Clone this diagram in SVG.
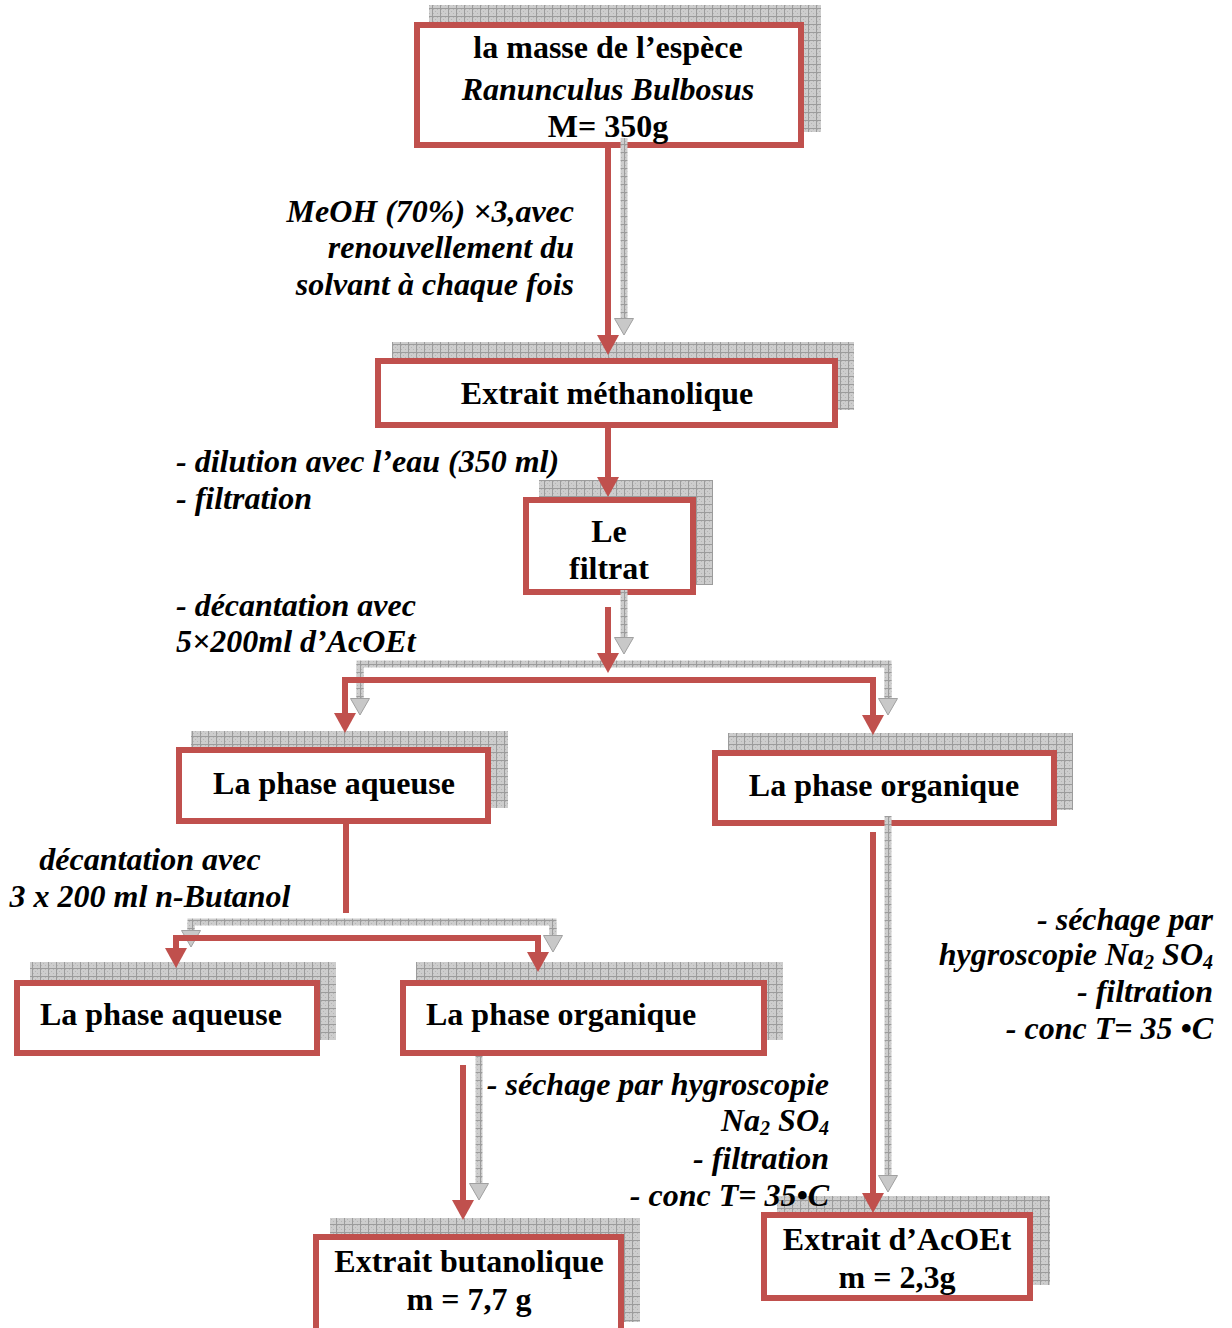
<svg xmlns="http://www.w3.org/2000/svg" width="1232" height="1328" viewBox="0 0 1232 1328">
<defs>
<pattern id="grid" width="8" height="8" patternUnits="userSpaceOnUse">
<rect width="8" height="8" fill="#cdcdcd"/>
<rect x="1" y="1" width="1" height="1" fill="#b5b5b5"/>
<rect x="3" y="3" width="1" height="1" fill="#b5b5b5"/>
<rect x="5" y="5" width="1" height="1" fill="#b5b5b5"/>
<rect x="5" y="1" width="1" height="1" fill="#b5b5b5"/>
<rect x="1" y="5" width="1" height="1" fill="#b5b5b5"/>
<path d="M0,0.5H8M0.5,0V8" stroke="#9c9c9c" stroke-width="1"/>
</pattern>
<marker id="rh" viewBox="0 0 20 22" refX="0" refY="11" markerWidth="20" markerHeight="22" markerUnits="userSpaceOnUse" orient="auto">
<path d="M0,0L20,11L0,22z" fill="#c0504d"/>
</marker>
<marker id="gh" viewBox="0 0 18 20" refX="0" refY="10" markerWidth="18" markerHeight="20" markerUnits="userSpaceOnUse" orient="auto">
<path d="M0.5,0.5L17,10L0.5,19.5z" fill="#c8c8c8" stroke="#a0a0a0" stroke-width="1"/>
</marker>
</defs>
<style>
.sh{fill:url(#grid);}
.bx{fill:#fff;stroke:#c0504d;stroke-width:6;}
.t{font-family:"Liberation Serif","Times New Roman",serif;font-size:32px;font-weight:bold;fill:#000;}
.c{text-anchor:middle;}
.i{font-style:italic;}
.r{text-anchor:end;}
.red{fill:none;stroke:#c0504d;stroke-width:6;}
.ra{marker-end:url(#rh);}
.gr{fill:none;stroke:url(#grid);stroke-width:7;}
.ga{marker-end:url(#gh);}
.sub{font-size:20px;}
</style>
<rect width="1232" height="1328" fill="#fff"/>

<g id="n1">
<rect class="sh" x="429" y="5" width="392" height="127"/>
<rect class="bx" x="417" y="25" width="384" height="120"/>
<text class="t c" x="608" y="58">la masse de l’espèce</text>
<text class="t c i" x="608" y="100">Ranunculus Bulbosus</text>
<text class="t c" x="608" y="137">M= 350g</text>
</g>

<g id="n2">
<rect class="sh" x="392" y="342" width="462" height="68"/>
<rect class="bx" x="378" y="361" width="457" height="64"/>
<text class="t c" x="607" y="404">Extrait méthanolique</text>
</g>

<g id="n3">
<rect class="sh" x="539" y="480" width="174" height="105"/>
<rect class="bx" x="526" y="500" width="167" height="92"/>
<text class="t c" x="609" y="542">Le</text>
<text class="t c" x="609" y="579">filtrat</text>
</g>

<g id="n4">
<rect class="sh" x="191" y="731" width="317" height="77"/>
<rect class="bx" x="179" y="750" width="309" height="71"/>
<text class="t c" x="334" y="794">La phase aqueuse</text>
</g>

<g id="n5">
<rect class="sh" x="728" y="733" width="345" height="77"/>
<rect class="bx" x="715" y="753" width="339" height="70"/>
<text class="t c" x="884" y="796">La phase organique</text>
</g>

<g id="n6">
<rect class="sh" x="30" y="962" width="306" height="78"/>
<rect class="bx" x="17" y="983" width="300" height="70"/>
<text class="t" x="40" y="1025">La phase aqueuse</text>
</g>

<g id="n7">
<rect class="sh" x="416" y="962" width="367" height="78"/>
<rect class="bx" x="403" y="983" width="361" height="70"/>
<text class="t" x="426" y="1025">La phase organique</text>
</g>

<g id="n8">
<rect class="sh" x="330" y="1218" width="310" height="104"/>
<rect class="bx" x="316" y="1237" width="305" height="100"/>
<text class="t c" x="469" y="1272">Extrait butanolique</text>
<text class="t c" x="469" y="1310">m = 7,7 g</text>
</g>

<g id="n9">
<rect class="sh" x="777" y="1196" width="273" height="89"/>
<rect class="bx" x="764" y="1215" width="266" height="83"/>
<text class="t c" x="897" y="1250">Extrait d’AcOEt</text>
<text class="t c" x="897" y="1288">m = 2,3g</text>
</g>

<g id="connectors">
<path class="gr ga" d="M624,138V318"/>
<path class="gr ga" d="M624,590V637"/>
<path class="gr" d="M360,700V664H888V700"/>
<path class="gr ga" d="M360,664V698"/>
<path class="gr ga" d="M888,664V698"/>
<path class="gr" d="M191,930V922H553V935"/>
<path class="gr ga" d="M191,922V930"/>
<path class="gr ga" d="M553,922V935"/>
<path class="gr ga" d="M888,816V1175"/>
<path class="gr ga" d="M479,1056V1183"/>

<path class="red ra" d="M608,147V335"/>
<path class="red ra" d="M608,428V477"/>
<path class="red ra" d="M608,607V653"/>
<path class="red" d="M342,680H876"/>
<path class="red ra" d="M345,677V713"/>
<path class="red ra" d="M873,677V715"/>
<path class="red" d="M346,824V913"/>
<path class="red" d="M173,938H541"/>
<path class="red ra" d="M176,935V948"/>
<path class="red ra" d="M538,935V952"/>
<path class="red ra" d="M873,832V1193"/>
<path class="red ra" d="M463,1065V1200"/>
</g>

<g id="labels">
<text class="t i r" x="574" y="222">MeOH (70%) ×3,avec</text>
<text class="t i r" x="574" y="258">renouvellement du</text>
<text class="t i r" x="574" y="295">solvant à chaque fois</text>
<text class="t i" x="176" y="472">- dilution avec l’eau (350 ml)</text>
<text class="t i" x="176" y="509">- filtration</text>
<text class="t i" x="176" y="616">- décantation avec</text>
<text class="t i" x="176" y="652">5×200ml d’AcOEt</text>
<text class="t i c" x="150" y="870">décantation avec</text>
<text class="t i c" x="150" y="907">3 x 200 ml n-Butanol</text>
<text class="t i r" x="1213" y="930">- séchage par</text>
<text class="t i r" x="1213" y="965">hygroscopie Na<tspan class="sub" dy="4">2</tspan><tspan dy="-4"> SO</tspan><tspan class="sub" dy="4">4</tspan></text>
<text class="t i r" x="1213" y="1002">- filtration</text>
<text class="t i r" x="1213" y="1039">- conc T= 35 •C</text>
<text class="t i r" x="829" y="1095">- séchage par hygroscopie</text>
<text class="t i r" x="829" y="1131">Na<tspan class="sub" dy="4">2</tspan><tspan dy="-4"> SO</tspan><tspan class="sub" dy="4">4</tspan></text>
<text class="t i r" x="829" y="1169">- filtration</text>
<text class="t i r" x="829" y="1206">- conc T= 35•C</text>
</g>
</svg>
